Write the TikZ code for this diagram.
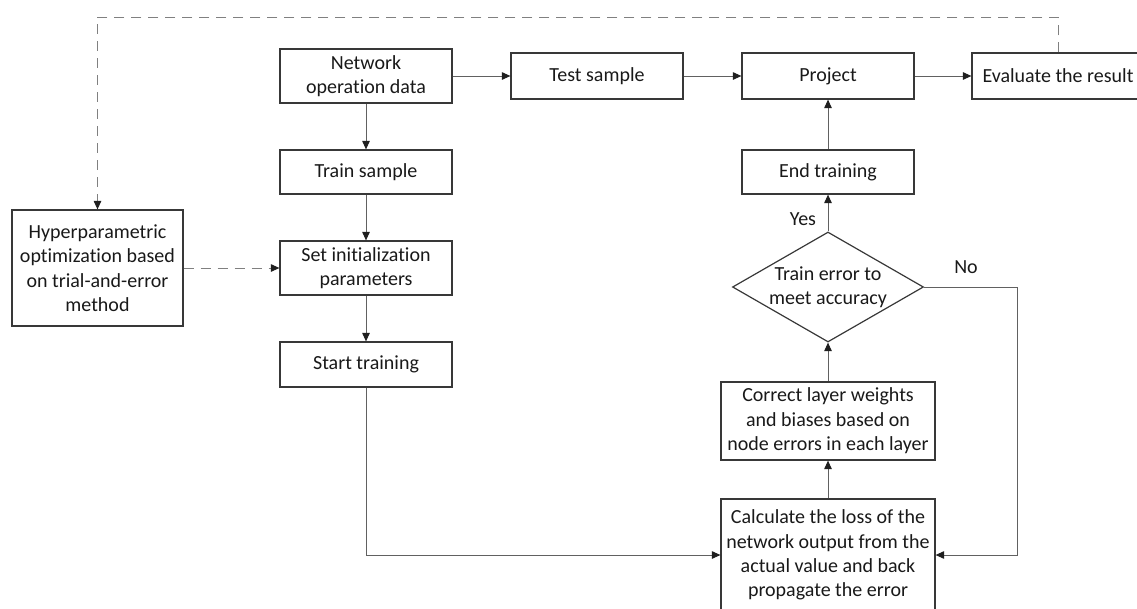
\documentclass[tikz,border=0pt]{standalone}
\usepackage{fontspec}
\setmainfont{Carlito}[Ligatures={NoCommon}]
\usetikzlibrary{arrows.meta,shapes.geometric}
\begin{document}
\begin{tikzpicture}[x=1pt,y=-1pt,
  txt/.style={font=\fontsize{20}{24.4}\selectfont, text=black!90, align=center},
  box/.style={txt, draw=black!78, line width=1.2pt, rectangle, inner sep=0pt},
  tip/.style={-{Triangle[length=8.5pt,width=7.5pt,color=black!88]}},
  flow/.style={draw=black!62, line width=1pt, tip},
  back/.style={draw=black!50, line width=1pt, dash pattern=on 10pt off 7pt, tip}]
\useasboundingbox (0,0) rectangle (1137,608);
\clip (0,0) rectangle (1137,608);

% main column
\node[box, minimum width=172pt, minimum height=54pt] (net) at (366,76) {Network\\operation data};
\node[box, minimum width=172pt, minimum height=44pt] (train) at (366,172) {Train sample};
\node[box, minimum width=172pt, minimum height=54pt] (init) at (366,268) {Set initialization\\parameters};
\node[box, minimum width=172pt, minimum height=45pt] (start) at (366,364.5) {Start training};

% hyperparameter search
\node[box, minimum width=171pt, minimum height=116pt] (hyp) at (97.5,268)
  {Hyperparametric\\optimization based\\on trial-and-error\\method};

% top row
\node[box, minimum width=172pt, minimum height=46pt] (test) at (597,76) {Test sample};
\node[box, minimum width=172pt, minimum height=46pt] (proj) at (828,76) {Project};
\node[box, minimum width=172pt, minimum height=46pt] (eval) at (1058,76) {Evaluate the result};

% training loop
\node[box, minimum width=172pt, minimum height=44pt] (end) at (828,172) {End training};
\node[diamond, draw=black!78, line width=1.2pt, minimum width=191pt, minimum height=110pt,
      inner sep=0pt] (dec) at (828,287) {};
\node[txt] (dect) at (dec.center) {Train error to\\meet accuracy};
\node[box, minimum width=214pt, minimum height=78pt] (corr) at (828,421)
  {Correct layer weights\\and biases based on\\node errors in each layer};
\node[box, minimum width=214pt, minimum height=112pt] (calc) at (828,555)
  {Calculate the loss of the\\network output from the\\actual value and back\\propagate the error};

\node[txt] (yes) at (803,219) {Yes};
\node[txt] (no) at (966,267) {No};

\coordinate (noturn) at (1017,287);
\coordinate (fbR) at (1058,17);
\coordinate (fbL) at (97.5,17);

% connectors
\draw[flow] (net) -- (test);
\draw[flow] (test) -- (proj);
\draw[flow] (proj) -- (eval);
\draw[flow] (net) -- (train);
\draw[flow] (train) -- (init);
\draw[flow] (init) -- (start);
\draw[flow] (start.south) |- (calc.west);
\draw[flow] (calc) -- (corr);
\draw[flow] (corr) -- (dec);
\draw[flow] (dec) -- (end);
\draw[flow] (end) -- (proj);
\draw[flow] (dec.east) -- (noturn) |- (calc.east);

% feedback of the evaluation
\draw[back] (eval.north) -- (fbR) -- (fbL) -- (hyp.north);
\draw[back] (hyp) -- (init);
\end{tikzpicture}
\end{document}
